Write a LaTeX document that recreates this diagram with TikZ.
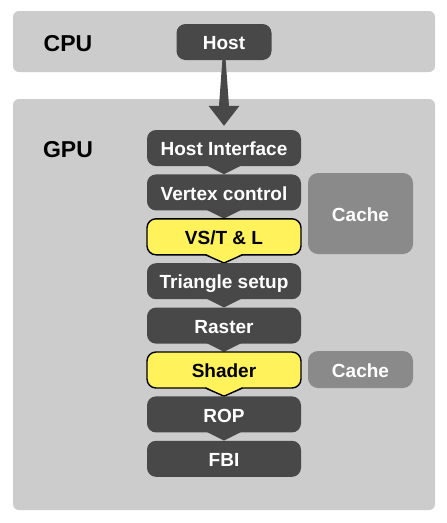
\documentclass[tikz,border=0pt]{standalone}
\usepackage{fontspec}
\setsansfont{Liberation Sans}
\usetikzlibrary{arrows.meta}
\definecolor{framec}{HTML}{CCCCCC}
\definecolor{darkc}{HTML}{484848}
\definecolor{hlc}{HTML}{FFF25B}
\definecolor{cachec}{HTML}{8A8A8A}
\newcommand\darknotch[1]{\fill[darkc] ([xshift=-18pt,yshift=1pt]#1.south) -- ([xshift=18pt,yshift=1pt]#1.south) -- ([yshift=-8pt]#1.south) -- cycle;}
\newcommand\hlnotch[1]{\fill[hlc] ([xshift=-18pt,yshift=1.6pt]#1.south) -- ([xshift=18pt,yshift=1.6pt]#1.south) -- ([yshift=-7.5pt]#1.south) -- cycle;
\draw[black,line width=1.4pt,line join=round] ([xshift=-18.5pt,yshift=0.7pt]#1.south) -- ([yshift=-7.5pt]#1.south) -- ([xshift=18.5pt,yshift=0.7pt]#1.south);}
\begin{document}
\begin{tikzpicture}[x=1pt,y=-1pt,
  lbl/.style={font=\sffamily\bfseries\fontsize{19}{22}\selectfont, text height=15.4pt, text depth=0pt, inner sep=0pt},
  biglbl/.style={font=\sffamily\bfseries\fontsize{23}{26}\selectfont, text height=16.5pt, text depth=0pt, inner sep=0pt, text=black},
  stage/.style={lbl, rounded corners=9pt, minimum width=154pt, minimum height=36pt, fill=darkc, text=white},
  hstage/.style={stage, fill=hlc, draw=black, line width=1.4pt, text=black},
  cachebox/.style={lbl, rounded corners=10pt, minimum width=105pt, fill=cachec, text=white},
  framebox/.style={fill=framec, rounded corners=6pt},
  bigarrow/.style={fill=darkc}]
\useasboundingbox[fill=white] (0,0) rectangle (447,523);
% frames
\fill[framebox] (13,11) rectangle (435,72);
\fill[framebox] (13,99) rectangle (435,510);
\node[biglbl] (cpu) at (68,43.5) {CPU};
\node[biglbl] (gpu) at (68,149) {GPU};
% host
\node[stage, minimum width=95pt] (host) at (224,42) {Host};
% pipeline
\node[stage] (hi) at (224,148) {Host Interface};
\darknotch{hi}
\node[stage] (vc) at (224,192.4) {Vertex control};
\darknotch{vc}
\node[hstage] (vs) at (224,236.8) {VS/T \& L};
\hlnotch{vs}
\node[stage] (ts) at (224,281.2) {Triangle setup};
\darknotch{ts}
\node[stage] (ra) at (224,325.6) {Raster};
\darknotch{ra}
\node[hstage] (sh) at (224,370) {Shader};
\hlnotch{sh}
\node[stage] (rop) at (224,414.4) {ROP};
\darknotch{rop}
\node[stage] (fbi) at (224,458.8) {FBI};
% caches
\node[cachebox, minimum height=81pt] (c1) at (360.5,213.5) {Cache};
\node[cachebox, minimum height=37pt] (c2) at (360.5,369.5) {Cache};
% tapered arrow from host to host interface
\fill[bigarrow] ([xshift=-1.5pt,yshift=2pt]host.south) -- ([xshift=1.5pt,yshift=2pt]host.south)
  -- ([xshift=5pt,yshift=24pt]hi.north) -- ([xshift=15.5pt,yshift=24pt]hi.north)
  -- ([yshift=4pt]hi.north) -- ([xshift=-15.5pt,yshift=24pt]hi.north)
  -- ([xshift=-5pt,yshift=24pt]hi.north) -- cycle;
\end{tikzpicture}
\end{document}
